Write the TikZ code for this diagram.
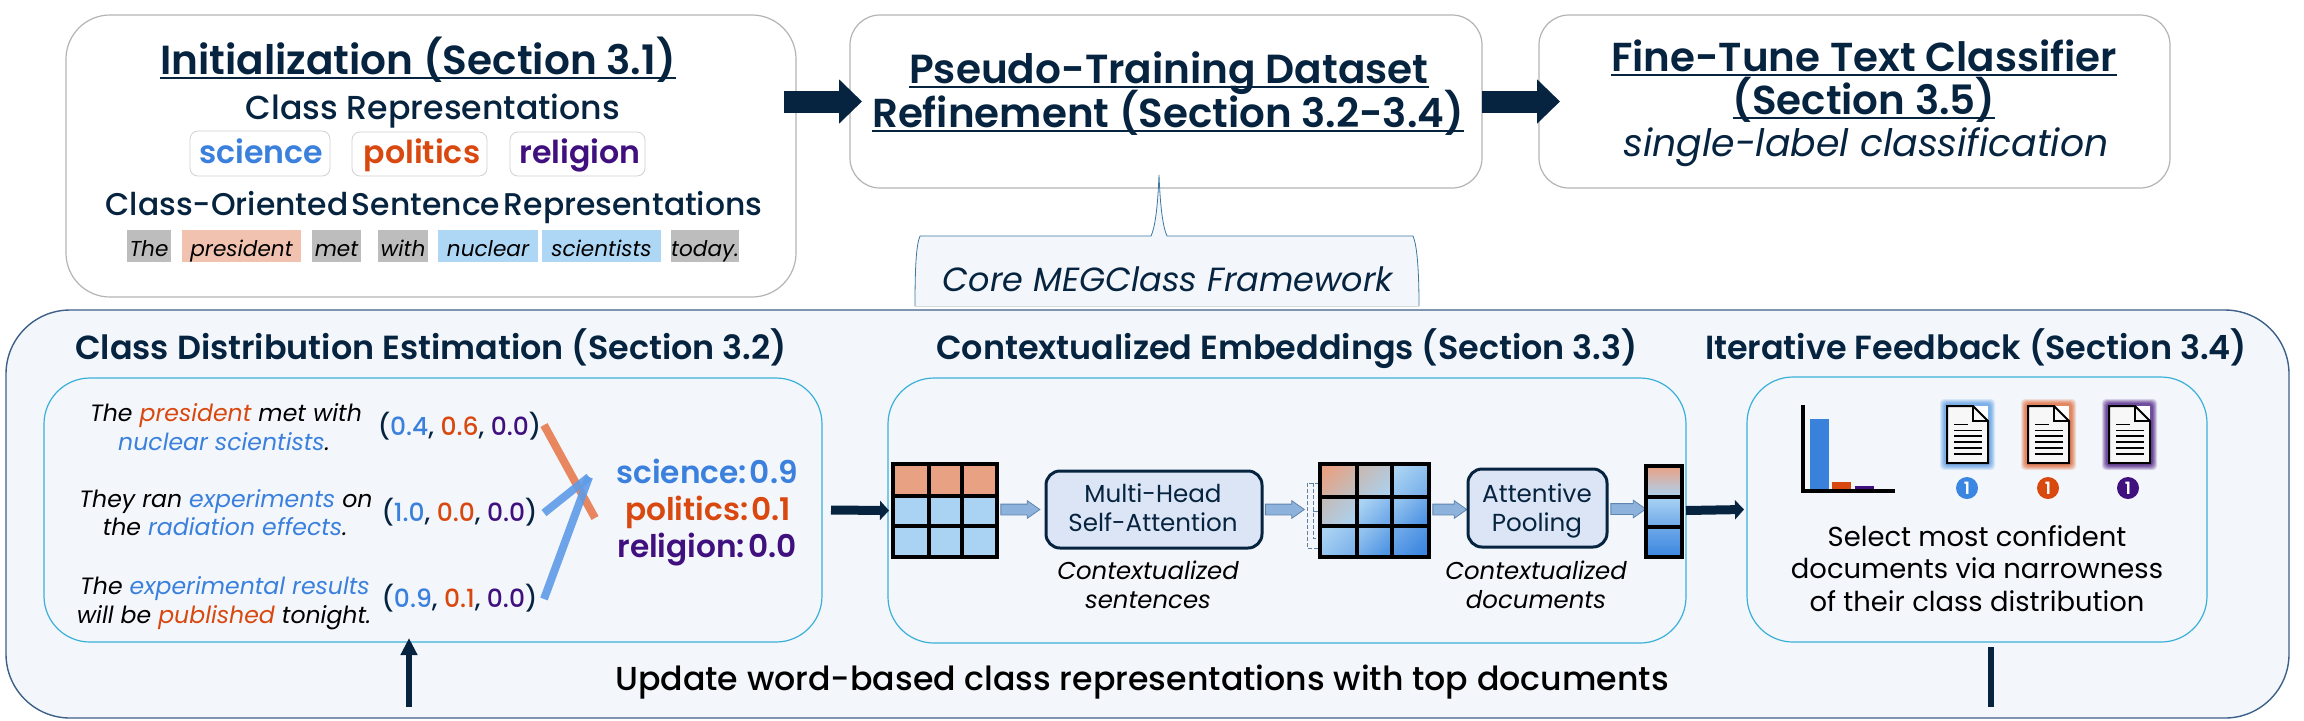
\documentclass[tikz,border=0pt]{standalone}
\usepackage{fontspec}
\usetikzlibrary{arrows.meta,shapes.arrows}
\setmainfont{Poppins}
\newfontfamily\semib{Poppins}[UprightFont=* SemiBold,ItalicFont=* SemiBold Italic]
\newfontfamily\medf{Poppins}[UprightFont=* Medium,ItalicFont=* Medium Italic]
\definecolor{navy}{HTML}{06243F}
\definecolor{cb}{HTML}{3A80DC}
\definecolor{co}{HTML}{D9480F}
\definecolor{cp}{HTML}{41107F}
\definecolor{panelbg}{HTML}{F3F7FC}
\definecolor{panelln}{HTML}{3D6088}
\definecolor{subln}{HTML}{3AB0D8}
\definecolor{greybd}{HTML}{B4B4B4}
\definecolor{chipg}{HTML}{BDBDBD}
\definecolor{chipo}{HTML}{F2C2B0}
\definecolor{chipb}{HTML}{AED6F5}
\definecolor{gs}{HTML}{E9A183}
\definecolor{gl}{HTML}{AAD3F3}
\definecolor{gm}{HTML}{6EA8E8}
\definecolor{gd}{HTML}{3A86E0}
\definecolor{gg}{HTML}{C2BDBC}
\definecolor{arrfill}{HTML}{8DB3DC}
\definecolor{arrln}{HTML}{5F84AE}
\definecolor{fuseo}{HTML}{E67A4E}
\definecolor{fuseb}{HTML}{5F9CE8}
\definecolor{HTMLmod}{HTML}{DBE5F5}
\newcommand\fs[1]{\fontsize{#1}{#1}\selectfont}
\newsavebox\ulbox
\newcommand\ulin[1]{\sbox\ulbox{#1}\leavevmode\rlap{\rule[-2.7pt]{\wd\ulbox}{1.1pt}}\usebox\ulbox}
\newcommand\cbl[1]{\textcolor{cb}{#1}}
\newcommand\cor[1]{\textcolor{co}{#1}}
\newcommand\cpu[1]{\textcolor{cp}{#1}}
\newcommand\gcell[6]{\shade[top color=#5,bottom color=#6,shading angle=45] (#1,#2) rectangle (#3,#4);}
\newcommand\docicon[2]{\begin{scope}[shift={(#1,0)}]
 \foreach \o/\a in {7/.2,6/.25,5/.3,4/.35,3/.5}{\fill[#2,opacity=\a,rounded corners=2pt] (-\o,406-\o) rectangle (41+\o,463+\o);}
 \fill[white] (26,406) rectangle (41,421);
 \draw[black,line width=1pt,fill=white!97!black,line join=miter] (0,406) -- (26,406) -- (41,421) -- (41,463) -- (0,463) -- cycle;
 \draw[black,line width=1pt] (26,406) -- (26,421) -- (41,421);
 \draw[black,line width=.8pt] (7,424.5) -- (21,424.5);
 \foreach \yy/\w in {430.5/.8,436/1,442/1.3,448/1.3,454/.9}{\draw[black,line width=\w pt] (7,\yy) -- (35,\yy);}
\end{scope}}
\tikzset{
 x=.5pt,y=-.5pt,
 tx/.style={anchor=base,inner sep=0pt,outer sep=0pt,align=center},
 whitebox/.style={draw=greybd,line width=.6pt,fill=white,inner sep=0pt,outer sep=0pt,rectangle},
 bigpanel/.style={draw=panelln,line width=.7pt,fill=panelbg,rounded corners=32pt,inner sep=0pt,outer sep=0pt,rectangle},
 subpanel/.style={draw=subln,line width=.6pt,fill=panelbg,rounded corners=23pt,inner sep=0pt,outer sep=0pt,rectangle},
 chiplabel/.style={draw=black!18,line width=.4pt,fill=white,rounded corners=4pt,inner sep=0pt,outer sep=0pt,rectangle},
 wordchip/.style={inner sep=0pt,outer sep=0pt,rectangle,minimum height=16pt,text height=12pt,text depth=2pt,font=\fs{10.8}\itshape,text=black},
 bigarrow/.style={navy,line width=11pt,-{Triangle[length=11.5pt,width=21.5pt]}},
 midarrow/.style={navy,line width=4.5pt,-{Triangle[length=4.5pt,width=9.5pt]}},
 blockarr/.style={single arrow,draw=arrln,line width=.4pt,fill=arrfill,single arrow head extend=1.75pt,single arrow tip angle=70,inner xsep=0pt,inner ysep=2.5pt,outer sep=0pt,anchor=center},
 modbox/.style={draw=navy,line width=1.5pt,fill=HTMLmod,rounded corners=7pt,inner sep=0pt,outer sep=0pt,rectangle},
 gridframe/.style={draw=black,line width=1.9pt,inner sep=0pt,outer sep=0pt,rectangle},
 gline/.style={black,line width=1.9pt},
 badge/.style={circle,inner sep=0pt,minimum size=11pt,text=white,font=\semib\fs{8.5}},
 fuse/.style={line width=4pt,opacity=.9},
}
\begin{document}
\begin{tikzpicture}
\useasboundingbox (0,0) rectangle (2304,720);
\fill[white] (0,0) rectangle (2304,720);
% top boxes
\node[whitebox,rounded corners=22pt,minimum width=365pt,minimum height=141pt] (init) at (431,156) {};
\node[whitebox,rounded corners=15pt,minimum width=316pt,minimum height=86.5pt] (pseudo) at (1166,101.5) {};
\node[whitebox,rounded corners=15pt,minimum width=315.5pt,minimum height=86.5pt] (fine) at (1854.5,101.5) {};
\draw[bigarrow] ([xshift=-6pt]init.east |- pseudo.west) -- ([xshift=6pt]pseudo.west);
\draw[bigarrow] (pseudo.east) -- ([xshift=10.5pt]fine.west);
% texts in init
\node[tx,font=\semib\fs{20.3},text=navy] (tinit) at (418,74) {\ulin{Initialization (Section 3.1)}};
\node[tx,font=\medf\fs{16.6},text=navy] (tcr) at (433,119) {Class Representations};
\node[chiplabel,minimum width=70pt,minimum height=22.5pt] (lsci) at (260,153.5) {};
\node[chiplabel,minimum width=67.5pt,minimum height=22pt] (lpol) at (419.5,154) {};
\node[chiplabel,minimum width=67.5pt,minimum height=22pt] (lrel) at (577.5,154) {};
\node[tx,font=\semib\fs{15.8},text=cb] (tsci) at (261,163) {science};
\node[tx,font=\semib\fs{15.8},text=co] (tpol) at (422,163) {politics};
\node[tx,font=\semib\fs{15.8},text=cp] (trel) at (580,163) {religion};
\node[tx,font=\medf\fs{15.7},text=navy] (tcos) at (434,215) {Class-Oriented\hspace{1.8pt}Sentence\hspace{1.8pt}Representations};
\node[wordchip,fill=chipg,minimum width=22pt] (w1) at (149,246) {The};
\node[wordchip,fill=chipo,minimum width=59.5pt] (w2) at (241.5,246) {president};
\node[wordchip,fill=chipg,minimum width=24.5pt] (w3) at (336.5,246) {met};
\node[wordchip,fill=chipg,minimum width=25pt] (w4) at (403,246) {with};
\node[wordchip,fill=chipb,minimum width=50pt] (w5) at (488,246) {nuclear};
\node[wordchip,fill=chipb,minimum width=59.5pt] (w6) at (601.5,246) {scientists};
\node[wordchip,fill=chipg,minimum width=33pt] (w7) at (705,246) {today.};
% other titles
\node[tx,font=\semib\fs{20.3},text=navy] (tp1) at (1169,83) {\ulin{Pseudo-Training Dataset}};
\node[tx,font=\semib\fs{20.2},text=navy] (tp2) at (1168,127) {\ulin{Refinement (Section 3.2-3.4)}};
\node[tx,font=\semib\fs{20.2},text=navy] (tf1) at (1864,71) {\ulin{Fine-Tune Text Classifier}};
\node[tx,font=\semib\fs{20.2},text=navy] (tf2) at (1864,114) {\ulin{(Section 3.5)}};
\node[tx,font=\fs{18.9}\itshape,text=navy] (tf3) at (1866,156) {single-label classification};
% main panel
\node[bigpanel,minimum width=1141.5pt,minimum height=204pt] (main) at (1147.5,514) {};
% callout
\fill[panelbg] (915,306) .. controls (915,270) and (916,245) .. (920,236) -- (1151,236) .. controls (1156,225) and (1158,200) .. (1159,175) .. controls (1160,200) and (1162,225) .. (1167,236) -- (1413,236) .. controls (1417,245) and (1419,270) .. (1419,306) -- cycle;
\draw[panelln!70!subln,line width=.4pt] (915,306) .. controls (915,270) and (916,245) .. (920,236) -- (1151,236) .. controls (1156,225) and (1158,200) .. (1159,175) .. controls (1160,200) and (1162,225) .. (1167,236) -- (1413,236) .. controls (1417,245) and (1419,270) .. (1419,306);
\draw[black!15,line width=.5pt] (915,306) -- (1419,306);
\node[tx,font=\fs{16.75}\itshape,text=navy] (tcore) at (1168,291) {Core MEGClass Framework};
% section headers
\node[tx,font=\semib\fs{16.7},text=navy] (h1) at (431,359) {Class Distribution Estimation (Section 3.2)};
\node[tx,font=\semib\fs{16.7},text=navy] (h2) at (1287,359) {Contextualized Embeddings (Section 3.3)};
\node[tx,font=\semib\fs{16.7},text=navy] (h3) at (1976,359) {Iterative Feedback (Section 3.4)};
% sub panels
\node[subpanel,minimum width=389pt,minimum height=132pt] (p1) at (433,510) {};
\node[subpanel,minimum width=399pt,minimum height=132.5pt] (p2) at (1287,510.5) {};
\node[subpanel,minimum width=230pt,minimum height=132.5pt] (p3) at (1977,509.5) {};
% sentences
\node[tx,font=\fs{11.8}\itshape,text=black] (s1a) at (226,421) {The \cor{president} met with};
\node[tx,font=\fs{11.8}\itshape,text=black] (s1b) at (224,450) {\cbl{nuclear scientists}.};
\node[tx,font=\fs{11.8}\itshape,text=black] (s2a) at (226,507) {They ran \cbl{experiments} on};
\node[tx,font=\fs{11.8}\itshape,text=black] (s2b) at (225,535) {the \cbl{radiation effects}.};
\node[tx,font=\fs{11.8}\itshape,text=black] (s3a) at (225,594) {The \cbl{experimental results}};
\node[tx,font=\fs{11.8}\itshape,text=black] (s3b) at (224,623) {will be \cor{published} tonight.};
% tuples
\node[tx,font=\medf\fs{12.5},text=navy] (v1) at (459.5,435) {(\cbl{0.4}, \cor{0.6}, \cpu{0.0})};
\node[tx,font=\medf\fs{12.5},text=navy] (v2) at (459.5,521) {(\cbl{1.0}, \cor{0.0}, \cpu{0.0})};
\node[tx,font=\medf\fs{12.5},text=navy] (v3) at (459.5,607) {(\cbl{0.9}, \cor{0.1}, \cpu{0.0})};
% fusing strokes
\coordinate (fo1) at (544,425);
\coordinate (fo) at (595,518);
\coordinate (fb2) at (544,513);
\coordinate (fb3) at (544,599);
\coordinate (fb) at (589,477);
\draw[fuse,color=fuseo] (fo1) -- (fo);
\draw[fuse,color=fuseb] (fb2) -- (fb);
\draw[fuse,color=fuseb] (fb3) -- (fb);
\node[tx,font=\semib\fs{15.6},text=cb] (r1) at (707,483) {science:\hspace{1.5pt}0.9};
\node[tx,font=\semib\fs{15.6},text=co] (r2) at (708,520) {politics:\hspace{1.5pt}0.1};
\node[tx,font=\semib\fs{15.6},text=cp] (r3) at (707,557) {religion:\hspace{1.5pt}0.0};
% grid 1
\node[gridframe,minimum width=52pt,minimum height=46.5pt] (gr1) at (945,510.5) {};
\fill[gs] (893,464) rectangle (997,496);
\fill[gl] (893,496) rectangle (997,557);
\draw[gline] (929,464) -- (929,557) (962,464) -- (962,557) (893,496) -- (997,496) (893,526) -- (997,526);
\node[gridframe,minimum width=52pt,minimum height=46.5pt] at (945,510.5) {};
\draw[midarrow] ([xshift=4.5pt]p1.east) -- ([xshift=-2pt]gr1.west);
\node[blockarr,minimum height=19.5pt] (ba1) at (1016.5,509.5) {};
\node[modbox,minimum width=108pt,minimum height=38.5pt] (mhsa) at (1154,509.5) {};
\node[tx,font=\fs{12.3},text=navy] (tm1) at (1153,502) {Multi-Head};
\node[tx,font=\fs{12.3},text=navy] (tm2) at (1153,531) {Self-Attention};
\node[tx,font=\fs{12.2}\itshape,text=black] (c1a) at (1148,579) {Contextualized};
\node[tx,font=\fs{12.2}\itshape,text=black] (c1b) at (1148,608) {sentences};
\node[blockarr,minimum height=19.5pt] (ba2) at (1281,509.5) {};
% dashed brackets
\draw[panelln!80,line width=.35pt,dash pattern=on 2pt off 1pt] (1319,483) -- (1307,483) -- (1307,548) -- (1319,548);
\draw[panelln!80,line width=.35pt,dash pattern=on 2pt off 1pt] (1319,483) -- (1313,483) -- (1313,538) -- (1319,538);
\draw[panelln!80,line width=.35pt] (1313,511) -- (1319,511);
% grid 2
\node[gridframe,minimum width=54.5pt,minimum height=46.5pt] (gr2) at (1374.5,510.5) {};
\gcell{1320}{464}{1357}{497}{gs}{gg}{}
\gcell{1357}{464}{1392}{497}{gg!90!gs}{gl!85!gg}{}
\gcell{1392}{464}{1429}{497}{gl}{gm!80!gl}{}
\gcell{1320}{497}{1357}{526}{gg}{gl!90!gg}{}
\gcell{1357}{497}{1392}{526}{gl}{gm}{}
\gcell{1392}{497}{1429}{526}{gl!60!gm}{gd!60!gm}{}
\gcell{1320}{526}{1357}{557}{gl}{gm!75!gl}{}
\gcell{1357}{526}{1392}{557}{gl!60!gm}{gd!60!gm}{}
\gcell{1392}{526}{1429}{557}{gm}{gd}{}
\draw[gline] (1357,464) -- (1357,557) (1392,464) -- (1392,557) (1320,497) -- (1429,497) (1320,526) -- (1429,526);
\node[gridframe,minimum width=54.5pt,minimum height=46.5pt] at (1374.5,510.5) {};
\node[blockarr,minimum height=17pt] (ba3) at (1446,509.5) {};
\node[modbox,minimum width=69.5pt,minimum height=39pt] (pool) at (1537.5,508) {};
\node[tx,font=\fs{12.3},text=navy] (ta1) at (1537,502) {Attentive};
\node[tx,font=\fs{12.3},text=navy] (ta2) at (1537,531) {Pooling};
\node[tx,font=\fs{12.2}\itshape,text=black] (c2a) at (1536,579) {Contextualized};
\node[tx,font=\fs{12.2}\itshape,text=black] (c2b) at (1536,608) {documents};
\node[blockarr,minimum height=17.5pt] (ba4) at (1624.5,509) {};
% grid 3
\node[gridframe,minimum width=18pt,minimum height=45.5pt] (gr3) at (1664,511.5) {};
\shade[top color=gs,bottom color=gl] (1646,466) rectangle (1682,497);
\shade[top color=gl,bottom color=gm] (1646,497) rectangle (1682,527);
\shade[top color=gm,bottom color=gd] (1646,527) rectangle (1682,557);
\draw[gline] (1646,497) -- (1682,497) (1646,527) -- (1682,527);
\node[gridframe,minimum width=18pt,minimum height=45.5pt] at (1664,511.5) {};
\draw[midarrow] (p2.east) -- ([xshift=-1.5pt]p3.west);
% chart
\fill[cb!90!gd] (1810,419) rectangle (1829,489);
\fill[co] (1832,482) rectangle (1851,489);
\fill[cp] (1855,486) rectangle (1874,489);
\fill[black] (1801,405) rectangle (1805,493);
\fill[black] (1801,489) rectangle (1895,493);
% documents
\docicon{1947}{gm}
\docicon{2028}{co!75!white}
\docicon{2109}{cp!85!white}
\node[badge,fill=gd] (b1) at (1967,488) {1};
\node[badge,fill=co] (b2) at (2048,488) {1};
\node[badge,fill=cp] (b3) at (2128,488) {1};
\node[tx,font=\fs{13.7},text=black] (sel1) at (1977,546) {Select most confident};
\node[tx,font=\fs{13.7},text=black] (sel2) at (1977,578) {documents via narrowness};
\node[tx,font=\fs{13.7},text=black] (sel3) at (1977,611) {of their class distribution};
% feedback
\node[tx,font=\medf\fs{16.6},text=black] (upd) at (1142,690) {Update word-based class representations with top documents};
\coordinate (fbr) at (1991,707);
\coordinate (fbl) at (409,707);
\draw[navy,line width=3pt] ([yshift=-2.5pt]fbr |- p3.south) -- (fbr);
\draw[navy,line width=3pt,-{Triangle[length=8.5pt,width=8pt]}] (fbl) -- ([yshift=2pt]fbl |- p1.south);
\end{tikzpicture}
\end{document}
